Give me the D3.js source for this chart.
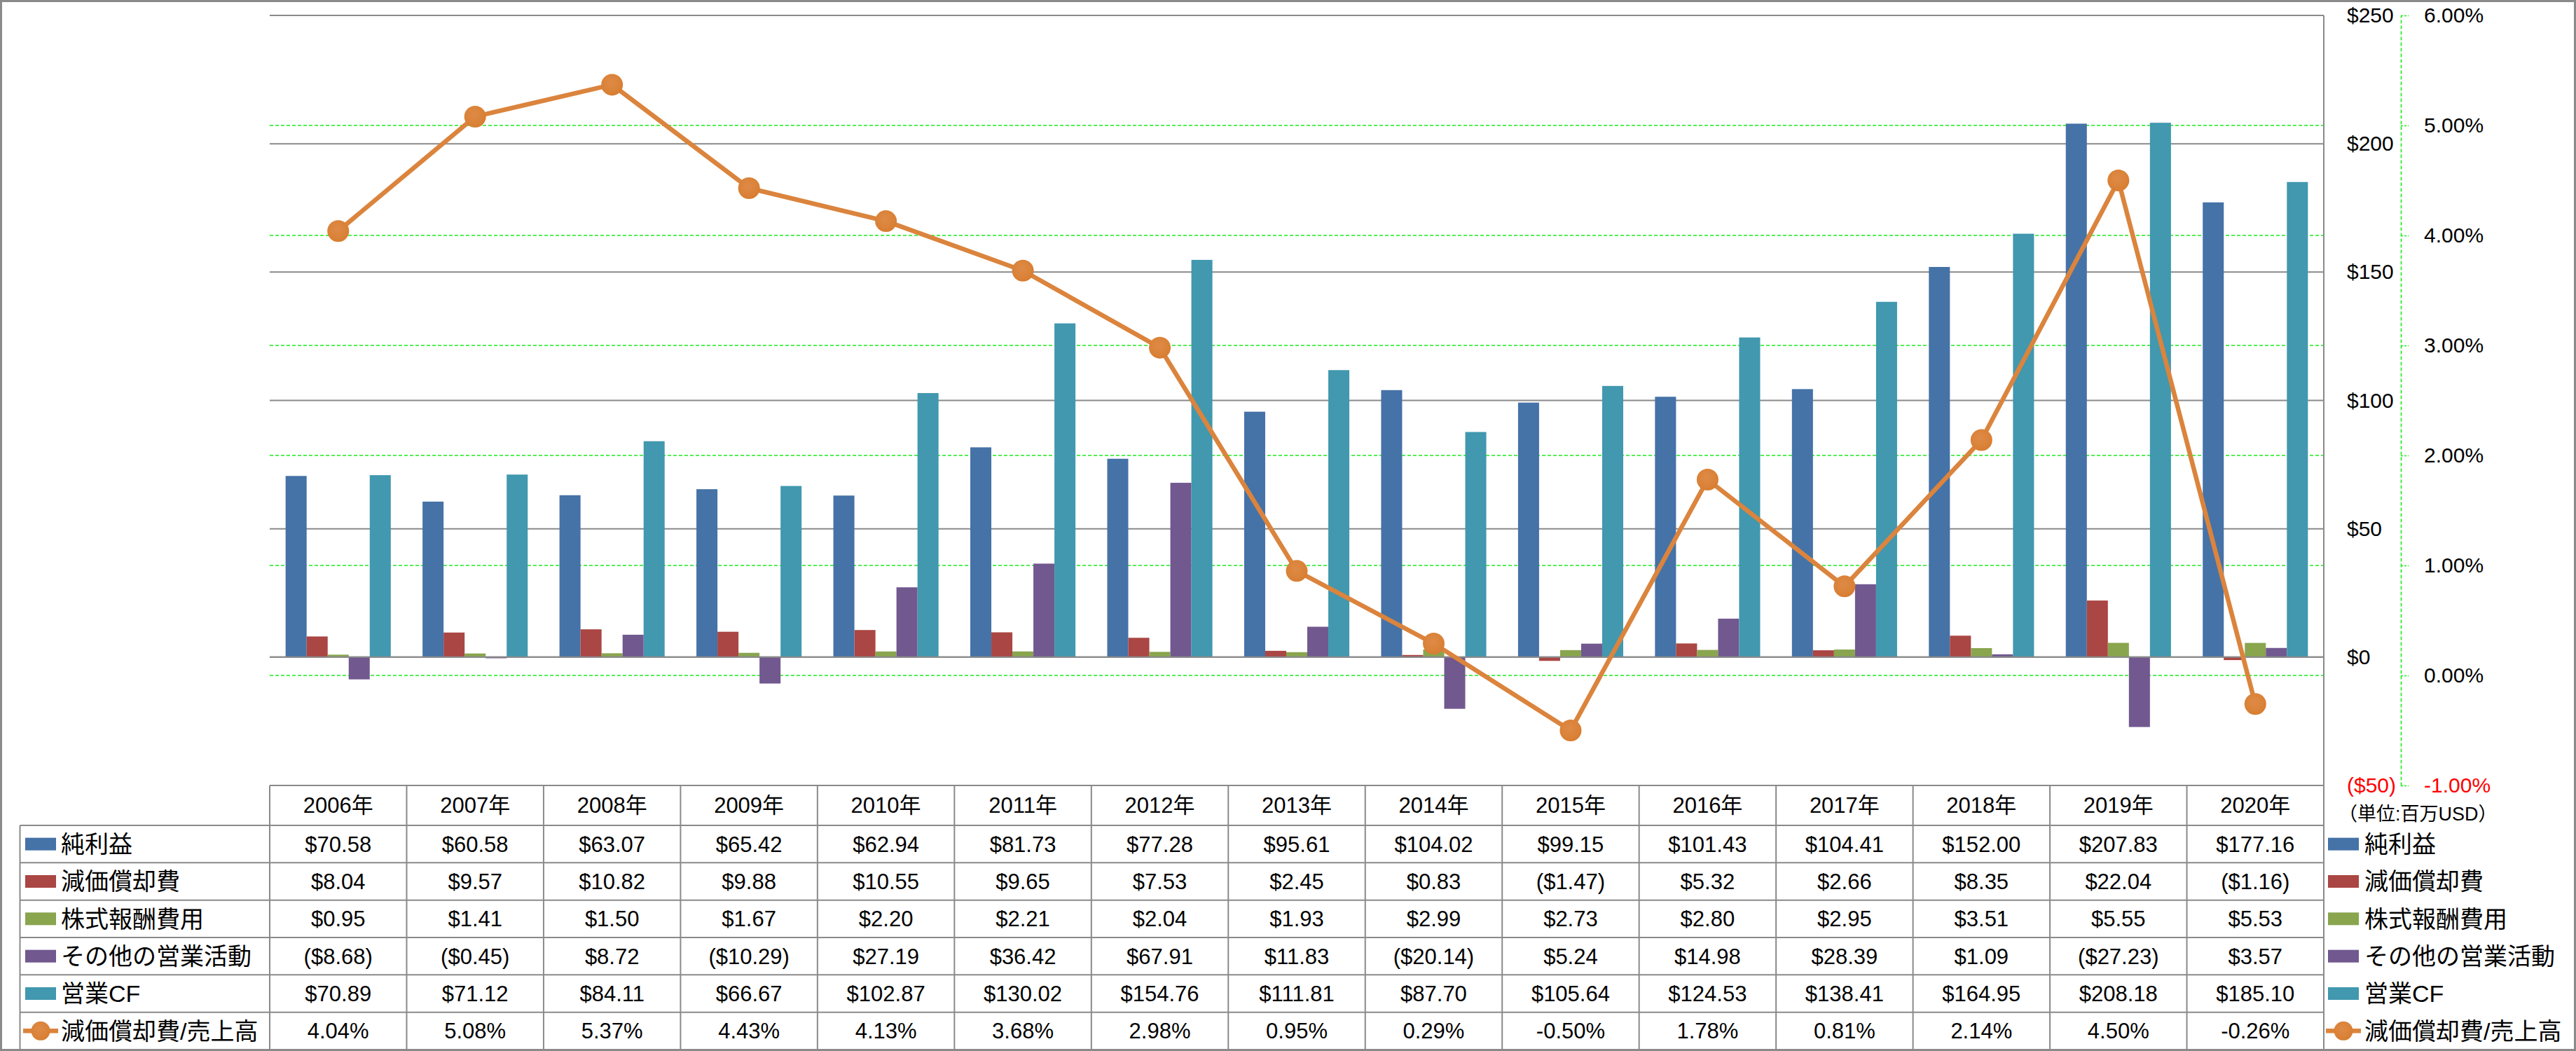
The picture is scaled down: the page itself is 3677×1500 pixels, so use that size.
<!DOCTYPE html>
<html>
<head>
<meta charset="utf-8">
<script src="https://cdn.jsdelivr.net/npm/d3@7"></script>
<style>
  html, body { margin: 0; padding: 0; background: #fff; }
  svg { display: block; }
  text { font-family: 'Liberation Sans', 'Noto Sans CJK JP', sans-serif; }
</style>
</head>
<body>
<script>
// ---------------- data ----------------
const years = ["2006年","2007年","2008年","2009年","2010年","2011年","2012年","2013年","2014年","2015年","2016年","2017年","2018年","2019年","2020年"];
const seriesNames = ["純利益","減価償却費","株式報酬費用","その他の営業活動","営業CF"];
const lineName = "減価償却費/売上高";
const netIncome    = [70.58,60.58,63.07,65.42,62.94,81.73,77.28,95.61,104.02,99.15,101.43,104.41,152.00,207.83,177.16];
const depreciation = [8.04,9.57,10.82,9.88,10.55,9.65,7.53,2.45,0.83,-1.47,5.32,2.66,8.35,22.04,-1.16];
const stockComp    = [0.95,1.41,1.50,1.67,2.20,2.21,2.04,1.93,2.99,2.73,2.80,2.95,3.51,5.55,5.53];
const otherOps     = [-8.68,-0.45,8.72,-10.29,27.19,36.42,67.91,11.83,-20.14,5.24,14.98,28.39,1.09,-27.23,3.57];
const operatingCF  = [70.89,71.12,84.11,66.67,102.87,130.02,154.76,111.81,87.70,105.64,124.53,138.41,164.95,208.18,185.10];
const deprRatio    = [4.04,5.08,5.37,4.43,4.13,3.68,2.98,0.95,0.29,-0.50,1.78,0.81,2.14,4.50,-0.26];
const usdTicks = [-50,0,50,100,150,200,250];
const pctTicks = [-1,0,1,2,3,4,5,6];
const unitLabel = "（単位:百万USD）";

const seriesValues = [netIncome, depreciation, stockComp, otherOps, operatingCF];
const seriesColors = ["#4572A7","#AA4643","#89A54E","#71588F","#4198AF"];
const lineColor = "#DB843D";

// ---------------- layout ----------------
const W = 3677, H = 1500;
const plotL = 385, plotR = 3317, plotT = 22, plotB = 1121;
const tableBottom = 1498, headerBottom = 1178, labelLeft = 28.5;

const svg = d3.select("body").append("svg").attr("width", W).attr("height", H);

const defs = svg.append("defs");
const grad = defs.append("radialGradient").attr("id","mk").attr("cx","45%").attr("cy","40%").attr("r","60%");
grad.append("stop").attr("offset","0%").attr("stop-color","#DE8A47");
grad.append("stop").attr("offset","70%").attr("stop-color","#DA8238");
grad.append("stop").attr("offset","100%").attr("stop-color","#D77D31");

const x = d3.scaleBand().domain(years).range([plotL, plotR]).padding(0);
const bw = x.bandwidth();
const xs = d3.scaleBand().domain(seriesNames).range([bw * 0.116, bw * 0.884]).padding(0);
const y = d3.scaleLinear().domain([-50, 250]).range([plotB, plotT]);
const yp = d3.scaleLinear().domain([-1, 6]).range([plotB, plotT]);

// ---------------- gridlines ----------------
const gridG = svg.append("g");
gridG.selectAll("line.pg").data(pctTicks).join("line")
  .attr("x1", plotL).attr("x2", plotR)
  .attr("y1", d => yp(d)).attr("y2", d => yp(d))
  .attr("stroke", "#1BEA1B").attr("stroke-width", 1.6).attr("stroke-dasharray", "5,3");
gridG.selectAll("line.ug").data(usdTicks).join("line")
  .attr("x1", plotL).attr("x2", plotR)
  .attr("y1", d => y(d)).attr("y2", d => y(d))
  .attr("stroke", "#8A8A8A").attr("stroke-width", 2);

// ---------------- bars ----------------
const barsG = svg.append("g");
seriesNames.forEach((name, si) => {
  barsG.append("g").attr("fill", seriesColors[si])
    .selectAll("rect").data(seriesValues[si]).join("rect")
    .attr("x", (d, i) => x(years[i]) + xs(name))
    .attr("width", xs.bandwidth())
    .attr("y", d => y(Math.max(0, d)))
    .attr("height", d => Math.abs(y(d) - y(0)));
});
svg.append("line").attr("x1", plotL).attr("x2", plotR).attr("y1", y(0)).attr("y2", y(0))
  .attr("stroke", "#8A8A8A").attr("stroke-width", 2);

// ---------------- line ----------------
const line = d3.line().x((d, i) => x(years[i]) + bw / 2).y(d => yp(d));
svg.append("path").datum(deprRatio).attr("d", line)
  .attr("fill", "none").attr("stroke", lineColor).attr("stroke-width", 6.5).attr("stroke-linejoin", "round");
svg.append("g").selectAll("circle").data(deprRatio).join("circle")
  .attr("cx", (d, i) => x(years[i]) + bw / 2).attr("cy", d => yp(d)).attr("r", 15.5)
  .attr("fill", "url(#mk)");

// ---------------- axes ----------------
const usdFmt = v => v < 0 ? "($" + Math.abs(v) + ")" : "$" + v;
const usdAxis = d3.axisRight(y).tickValues(usdTicks).tickFormat(usdFmt).tickSize(0).tickPadding(0);
const ua = svg.append("g").attr("transform", `translate(3350,0)`).call(usdAxis);
ua.select(".domain").remove();
ua.selectAll("text").attr("font-size", 30).attr("font-family", "'Liberation Sans', sans-serif")
  .attr("fill", d => d < 0 ? "#FF0000" : "#000");

const pctFmt = v => v.toFixed(2) + "%";
const pctAxis = d3.axisRight(yp).tickValues(pctTicks).tickFormat(pctFmt).tickSizeInner(11).tickSizeOuter(0).tickPadding(22);
const pa = svg.append("g").attr("transform", `translate(3427,0)`).call(pctAxis);
pa.select(".domain").attr("stroke", "#1BEA1B").attr("stroke-width", 1.6).attr("stroke-dasharray", "5,3");
pa.selectAll(".tick line").attr("stroke", "#1BEA1B").attr("stroke-width", 1.6).attr("stroke-dasharray", "3,2");
pa.selectAll("text").attr("font-size", 30).attr("font-family", "'Liberation Sans', sans-serif")
  .attr("fill", d => d < 0 ? "#FF0000" : "#000");

// plot right border
svg.append("line").attr("x1", plotR).attr("x2", plotR).attr("y1", plotT).attr("y2", tableBottom)
  .attr("stroke", "#8A8A8A").attr("stroke-width", 2);

// unit label
svg.append("text").attr("x", 3338).attr("y", 1162).attr("dy", "0.35em")
  .attr("font-size", 27).text(unitLabel);

// ---------------- data table ----------------
const rowKeys = [...seriesNames, lineName];
const rowValues = [...seriesValues, deprRatio];
const rows = d3.scaleBand().domain(rowKeys).range([headerBottom, tableBottom]);
const tbl = svg.append("g");
const gridStroke = "#8A8A8A";

rows.domain().forEach(k => {
  tbl.append("line").attr("x1", labelLeft).attr("x2", plotR)
    .attr("y1", rows(k)).attr("y2", rows(k)).attr("stroke", gridStroke).attr("stroke-width", 2);
});
tbl.append("line").attr("x1", labelLeft).attr("x2", plotR)
  .attr("y1", tableBottom).attr("y2", tableBottom).attr("stroke", gridStroke).attr("stroke-width", 2);
years.forEach(yr => {
  tbl.append("line").attr("x1", x(yr)).attr("x2", x(yr))
    .attr("y1", plotB).attr("y2", tableBottom).attr("stroke", gridStroke).attr("stroke-width", 2);
});
tbl.append("line").attr("x1", labelLeft).attr("x2", labelLeft)
  .attr("y1", headerBottom).attr("y2", tableBottom).attr("stroke", gridStroke).attr("stroke-width", 2);

tbl.selectAll("text.hd").data(years).join("text")
  .attr("x", d => x(d) + bw / 2).attr("y", (plotB + headerBottom) / 2).attr("dy", "0.35em")
  .attr("text-anchor", "middle").attr("font-size", 31).text(d => d);

const moneyFmt = v => v < 0 ? "($" + (-v).toFixed(2) + ")" : "$" + v.toFixed(2);
rowKeys.forEach((k, ri) => {
  const fmt = ri === 5 ? pctFmt : moneyFmt;
  tbl.append("g").selectAll("text").data(rowValues[ri]).join("text")
    .attr("x", (d, i) => x(years[i]) + bw / 2).attr("y", rows(k) + rows.bandwidth() / 2).attr("dy", "0.35em")
    .attr("text-anchor", "middle").attr("font-size", 31).text(d => fmt(d));
});

function legendKey(g, cx, cy, ri) {
  if (ri < 5) {
    g.append("rect").attr("x", cx - 22).attr("y", cy - 9).attr("width", 44).attr("height", 18)
      .attr("fill", seriesColors[ri]);
  } else {
    g.append("line").attr("x1", cx - 25).attr("x2", cx + 25).attr("y1", cy).attr("y2", cy)
      .attr("stroke", lineColor).attr("stroke-width", 6.5);
    g.append("circle").attr("cx", cx).attr("cy", cy).attr("r", 13.5).attr("fill", "url(#mk)");
  }
}
rowKeys.forEach((k, ri) => {
  const cy = rows(k) + rows.bandwidth() / 2;
  legendKey(tbl, 58, cy, ri);
  tbl.append("text").attr("x", 87).attr("y", cy).attr("dy", "0.36em").attr("font-size", 34).text(k);
  legendKey(svg, 3345, cy, ri);
  svg.append("text").attr("x", 3375).attr("y", cy).attr("dy", "0.36em").attr("font-size", 34).text(k);
});

svg.append("rect").attr("x", 1.5).attr("y", 1.5).attr("width", W - 3).attr("height", H - 3)
  .attr("fill", "none").attr("stroke", "#8A8A8A").attr("stroke-width", 3);
</script>
</body>
</html>
